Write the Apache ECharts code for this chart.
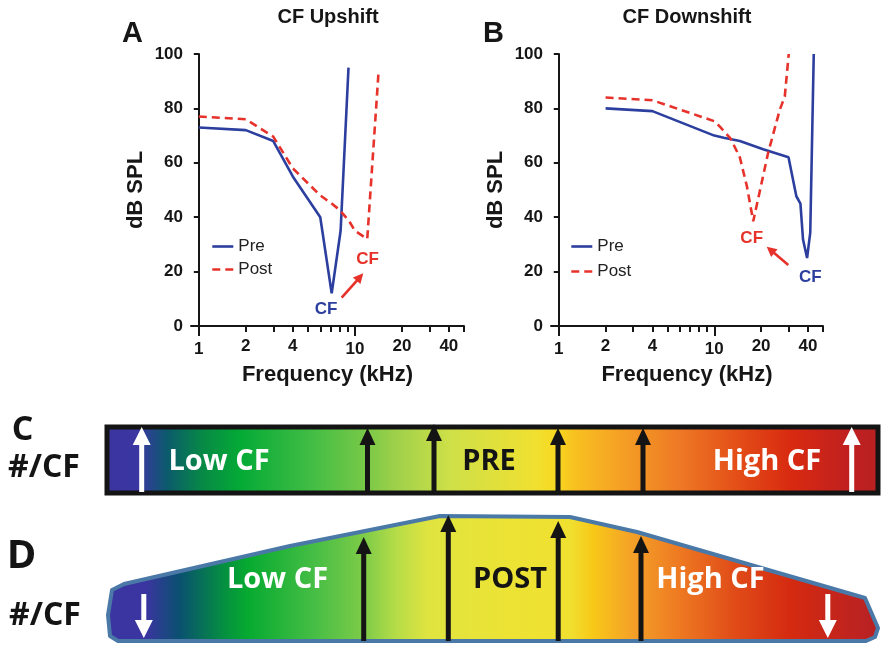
<!DOCTYPE html>
<html><head><meta charset="utf-8">
<script src="https://cdn.jsdelivr.net/npm/echarts@6/dist/echarts.min.js"></script>
<style>html,body{margin:0;padding:0;background:#fff}#c{width:883px;height:645px}</style>
</head><body><div id="c"></div>
<script>
// ---------- data ----------
const A_pre_freq  = [1, 2, 3, 4, 6, 7.1, 8.1, 9.1];
const A_pre_db    = [73, 72, 68, 55, 40, 12, 35, 95];
const A_post_freq = [1, 2, 3, 4, 6, 7.1, 8, 9.2, 10, 12, 14.2];
const A_post_db   = [77, 76, 69.6, 58, 48, 45, 42.6, 38.5, 35, 32, 94];
const B_pre_freq  = [2, 4, 10, 11.5, 14.6, 20.6, 30, 33.7, 35.8, 37.2, 39.5, 41.4, 43.6];
const B_pre_db    = [80, 79, 70, 69.2, 68, 65, 62, 47.7, 45, 31.8, 25, 34.3, 100];
const B_post_freq = [2, 4, 10, 10.9, 12.7, 14.6, 16.2, 17.8, 22.2, 26.4, 28.4, 30.1];
const B_post_db   = [84, 83, 75.3, 73.2, 69, 62, 51.4, 38.5, 63.7, 79.6, 84.4, 100];
const majorTicks  = [1, 10];
const minorTicks  = [2, 3, 4, 5, 6, 7, 8, 9, 20, 30, 40, 50];
const minorLabels = [2, 4, 20, 40];
const yTicks      = [0, 20, 40, 60, 80, 100];

// ---------- helpers ----------
const FONT = '"Liberation Sans", Arial, sans-serif';
const FONT2 = '"Open Sans", sans-serif';
const BLUE = '#2c3f9f', RED = '#e6322a', INK = '#161616';
const L10 = v => Math.log10(v);
const LMIN = -0.05, LMAX = Math.log10(50);
const fmt = v => String(Math.round(Math.pow(10, v)));
const pts = (f, d) => f.map((x, i) => [L10(x), d[i]]);

function xAxes(grid) {
  const base = {type: 'value', gridIndex: grid, position: 'bottom', offset: 0, min: LMIN, max: LMAX, splitLine: {show: false}};
  const lab = {fontSize: 17, fontWeight: 'bold', color: INK, fontFamily: FONT, formatter: fmt};
  return [
    Object.assign({}, base, {
      axisLine: {lineStyle: {color: INK, width: 2}},
      axisTick: {customValues: majorTicks.map(L10), length: 10, lineStyle: {color: INK, width: 2}},
      axisLabel: Object.assign({customValues: majorTicks.map(L10), margin: 15}, lab),
      name: 'Frequency (kHz)', nameLocation: 'middle', nameGap: 38,
      nameTextStyle: {fontSize: 22, fontWeight: 'bold', color: INK, fontFamily: FONT}
    }),
    Object.assign({}, base, {
      axisLine: {show: false},
      axisTick: {show: true, customValues: minorTicks.map(L10), length: 6, lineStyle: {color: INK, width: 2}},
      axisLabel: Object.assign({customValues: minorLabels.map(L10), margin: 12}, lab)
    })
  ];
}
function yAxis(grid) {
  return {
    type: 'value', gridIndex: grid, min: 0, max: 100, interval: 20,
    splitLine: {show: false},
    axisLine: {show: true, lineStyle: {color: INK, width: 2}},
    axisTick: {show: true, length: 5, lineStyle: {color: INK, width: 2}},
    axisLabel: {fontSize: 17, fontWeight: 'bold', color: INK, fontFamily: FONT, margin: 8},
    name: 'dB SPL', nameLocation: 'middle', nameGap: 44,
    nameTextStyle: {fontSize: 22, fontWeight: 'bold', color: INK, fontFamily: FONT}
  };
}
function line(name, xi, yi, data, color, dashed) {
  return {
    name, type: 'line', xAxisIndex: xi, yAxisIndex: yi, data, symbol: 'none',
    lineStyle: {color, width: 2.6, type: dashed ? [8, 5] : 'solid'},
    itemStyle: {color}, z: 5, animation: false
  };
}
function arrow(x1, y1, x2, y2, color, w, hl, hw, z) {
  const dx = x2 - x1, dy = y2 - y1, L = Math.hypot(dx, dy), ux = dx / L, uy = dy / L;
  const bx = x2 - ux * hl, by = y2 - uy * hl, px = -uy, py = ux;
  return [
    {type: 'line', z, shape: {x1, y1, x2: bx + ux, y2: by + uy}, style: {stroke: color, lineWidth: w}},
    {type: 'polygon', z, shape: {points: [[x2, y2], [bx + px * hw / 2, by + py * hw / 2], [bx - px * hw / 2, by - py * hw / 2]]}, style: {fill: color}}
  ];
}
function txt(x, y, text, size, color, family, weight, align) {
  return {type: 'text', x, y, z: 50, style: {text, fill: color, fontSize: size, fontFamily: family,
    fontWeight: weight || 'bold', align: align || 'center', verticalAlign: 'middle'}};
}
function grad(stops) {
  return {type: 'linear', x: 0, y: 0, x2: 1, y2: 0, colorStops: stops.map(s => ({offset: s[0], color: s[1]}))};
}

// ---------- schematic (C / D) ----------
const g = [];
g.push(txt(328, 17, 'CF Upshift', 20, INK, FONT));
g.push(txt(687, 17, 'CF Downshift', 20, INK, FONT));
g.push(txt(122, 34, 'A', 29, INK, FONT, 'bold', 'left'));
g.push(txt(483, 34, 'B', 29, INK, FONT, 'bold', 'left'));
g.push(txt(326, 309, 'CF', 17, BLUE, FONT));
g.push(txt(367.5, 259, 'CF', 17, RED, FONT));
g.push(...arrow(341.7, 297.7, 363.3, 273.3, RED, 2.6, 10, 10, 40));
g.push(txt(751.7, 238.3, 'CF', 17, RED, FONT));
g.push(txt(810.3, 277, 'CF', 17, BLUE, FONT));
g.push(...arrow(788.3, 265, 766.7, 246.7, RED, 2.6, 10, 10, 40));

const X0 = 107, X1 = 878;
const fr = x => Math.max(0, Math.min(1, (x - X0) / (X1 - X0)));
const cStops = [[107,'#3b34a0'],[141,'#3a36a2'],[169,'#0b5a6c'],[205,'#078a45'],[242,'#04aa36'],[316,'#45be45'],[370,'#7cc947'],[395,'#9dd04a'],[451,'#cfe048'],[536,'#f0e030'],[556,'#f8d820'],[575,'#f8c020'],[620,'#f5a025'],[677,'#ee7a25'],[733,'#e45018'],[789,'#d82a10'],[846,'#c02020'],[878,'#b82020']].map(s => [fr(s[0]), s[1]]);
g.push({type: 'rect', z: 10, shape: {x: 107, y: 427, width: 771, height: 66}, style: {fill: grad(cStops), stroke: '#141414', lineWidth: 5}});
g.push(...arrow(141.7, 492, 141.7, 427, '#ffffff', 5, 18, 18, 20));
g.push(...arrow(851.7, 492, 851.7, 427, '#ffffff', 5, 18, 18, 20));
[367.5, 434, 558, 643].forEach((x, i) => g.push(...arrow(x, 491, x, i === 1 ? 424 : 428, '#141414', 5, 17, 16, 20)));
g.push(txt(219, 462, 'Low CF', 29, '#ffffff', FONT2));
g.push(txt(489, 462, 'PRE', 29, '#141414', FONT2));
g.push(txt(767, 462, 'High CF', 29, '#ffffff', FONT2));
g.push(txt(22.5, 430, 'C', 34, '#141414', FONT2));
g.push(txt(44, 468, '#/CF', 32, '#141414', FONT2));

const dStops = [[107,'#3a35a0'],[147,'#3a35a0'],[180,'#0a5070'],[225,'#059040'],[248,'#06aa30'],[316,'#48be45'],[366,'#80cc48'],[395,'#b4dc48'],[428,'#e0e440'],[507,'#ece334'],[569,'#f0e030'],[592,'#f8c818'],[632,'#f4a028'],[677,'#ee7a22'],[733,'#e04c18'],[789,'#d42a10'],[863,'#bb2222'],[878,'#b82020']].map(s => [fr(s[0]), s[1]]);
g.push({type: 'polygon', z: 10, shape: {points: [[112,590],[124,584],[290,546],[440,516],[570,517],[637,532],[865,598],[878,628],[875,637],[866,641],[118,641],[110,636],[108,615]]},
  style: {fill: grad(dStops), stroke: '#4a79a8', lineWidth: 4, lineJoin: 'round'}});
g.push(...arrow(143.8, 594, 143.8, 638, '#ffffff', 5, 18, 18, 20));
g.push(...arrow(827.8, 594, 827.8, 638, '#ffffff', 5, 18, 18, 20));
[[363.7,537],[448.3,515],[558.2,521],[641,536]].forEach(a => g.push(...arrow(a[0], 641, a[0], a[1], '#141414', 5, 17, 16, 20)));
g.push(txt(277.5, 580, 'Low CF', 29, '#ffffff', FONT2));
g.push(txt(510, 580, 'POST', 29, '#141414', FONT2));
g.push(txt(710.5, 580, 'High CF', 29, '#ffffff', FONT2));
g.push(txt(21.5, 557, 'D', 40, '#141414', FONT2));
g.push(txt(45, 616, '#/CF', 32, '#141414', FONT2));

// ---------- chart ----------
const chart = echarts.init(document.getElementById('c'), null, {renderer: 'canvas'});
const legendBase = {orient: 'vertical', itemWidth: 21, itemHeight: 14, selectedMode: false, data: ['Pre', 'Post'],
  itemStyle: {opacity: 0}, lineStyle: {width: 2.6},
  textStyle: {fontSize: 17, color: '#222', fontFamily: FONT}};
chart.setOption({
  animation: false,
  backgroundColor: '#ffffff',
  grid: [
    {left: 191, top: 54, width: 273, height: 272},
    {left: 551, top: 54, width: 272, height: 272}
  ],
  xAxis: [...xAxes(0), ...xAxes(1)],
  yAxis: [yAxis(0), yAxis(1)],
  legend: [
    Object.assign({left: 206, top: 233, itemGap: 6}, legendBase),
    Object.assign({left: 565, top: 233, itemGap: 8}, legendBase)
  ],
  series: [
    line('Pre', 0, 0, pts(A_pre_freq, A_pre_db), BLUE, false),
    line('Post', 0, 0, pts(A_post_freq, A_post_db), RED, true),
    line('Pre', 2, 1, pts(B_pre_freq, B_pre_db), BLUE, false),
    line('Post', 2, 1, pts(B_post_freq, B_post_db), RED, true)
  ],
  graphic: {elements: g}
});
</script>
</body></html>
